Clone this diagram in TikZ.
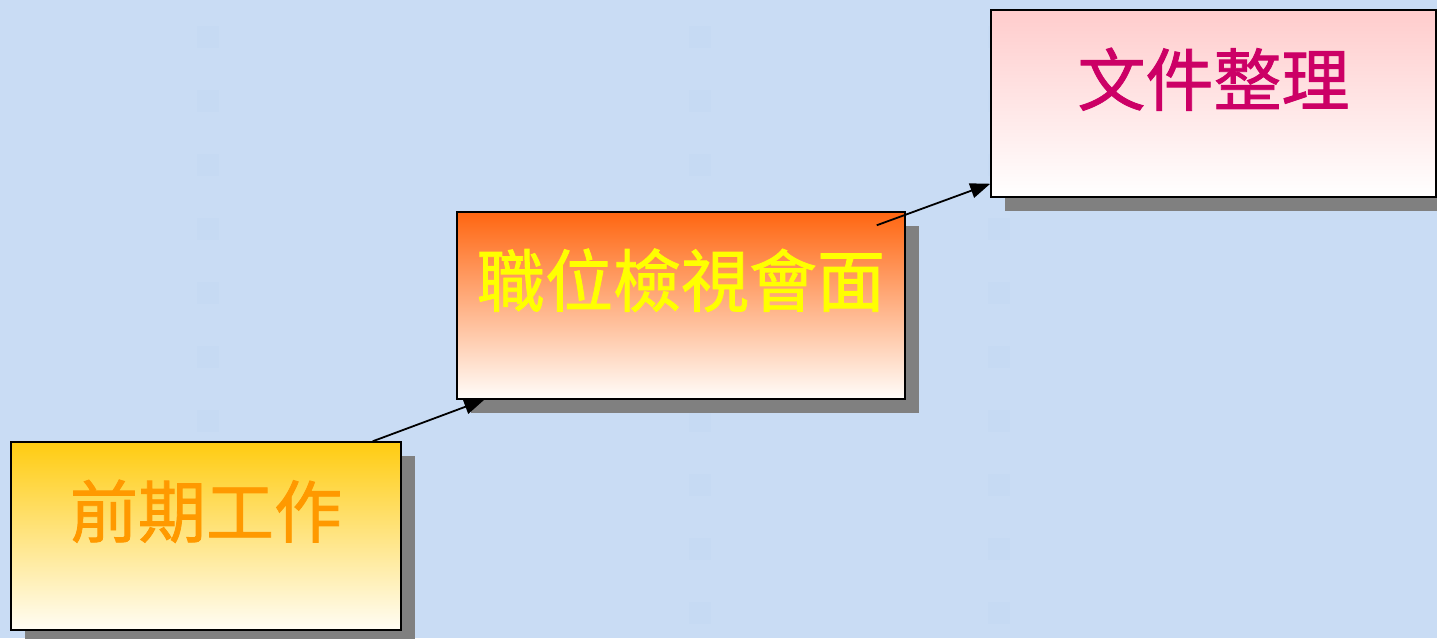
\documentclass[tikz,border=0pt]{standalone}
\usepackage{fontspec}
\newfontfamily\cjk[FakeBold=1.2]{Noto Sans CJK TC}
\usetikzlibrary{arrows.meta,shadows,calc}
\definecolor{bg}{RGB}{201,220,244}
\definecolor{sq}{RGB}{198,218,243}
\definecolor{shadowgray}{RGB}{128,128,128}
\definecolor{topA}{RGB}{255,204,17}
\definecolor{botA}{RGB}{255,253,245}
\definecolor{topB}{RGB}{255,102,17}
\definecolor{botB}{RGB}{255,253,250}
\definecolor{topC}{RGB}{255,204,204}
\definecolor{botC}{RGB}{255,255,255}
\definecolor{txtA}{RGB}{255,153,0}
\definecolor{txtB}{RGB}{255,255,0}
\definecolor{txtC}{RGB}{204,0,102}
\begin{document}
\begin{tikzpicture}[x=1pt,y=-1pt,
  stage/.style={draw=black, line width=1.5pt, rectangle, inner sep=0pt,
    drop shadow={shadow xshift=14pt, shadow yshift=-14pt, fill=shadowgray, opacity=1}},
  stagetext/.style={inner sep=0pt, font=\cjk\fontsize{68}{72}\selectfont},
  conn/.style={draw=black, line width=1.8pt, -{Triangle[length=20pt,width=15pt]}},
  bgsq/.style={fill=sq, draw=none}]
\useasboundingbox (0,0) rectangle (1437,638);
\fill[bg] (0,0) rectangle (1437,638);
\clip (0,0) rectangle (1437,638);
% faint background squares
\foreach \cx in {197,689,988}{
  \foreach \ry in {26,90,154,218,282,346,410,474,538,602}{
    \fill[bgsq] (\cx,\ry) rectangle ++(22,22);
  }
}
% boxes
\node[stage, minimum width=390pt, minimum height=188pt, top color=topA, bottom color=botA] (b1) at (206,536) {};
\node[stage, minimum width=448pt, minimum height=187pt, top color=topB, bottom color=botB] (b2) at (681,305.5) {};
\node[stage, minimum width=445pt, minimum height=187pt, top color=topC, bottom color=botC] (b3) at (1213.5,103.5) {};
% texts
\node[stagetext, text=txtA] (l1) at ($(b1.north)+(0,70)$) {前期工作};
\node[stagetext, text=txtB] (l2) at ($(b2.north)+(0,69)$) {職位檢視會面};
\node[stagetext, text=txtC] (l3) at ($(b3.north)+(0,70)$) {文件整理};
% connectors
\coordinate (a1s) at ($(b1.north east)+(-29,0)$);
\coordinate (a1e) at ($(b2.south west)+(28,0)$);
\coordinate (a2s) at ($(b2.north east)+(-29,14)$);
\coordinate (a2e) at ($(b3.south west)+(0,-14)$);
\draw[conn] (a1s) -- (a1e);
\draw[conn] (a2s) -- (a2e);
\end{tikzpicture}
\end{document}
